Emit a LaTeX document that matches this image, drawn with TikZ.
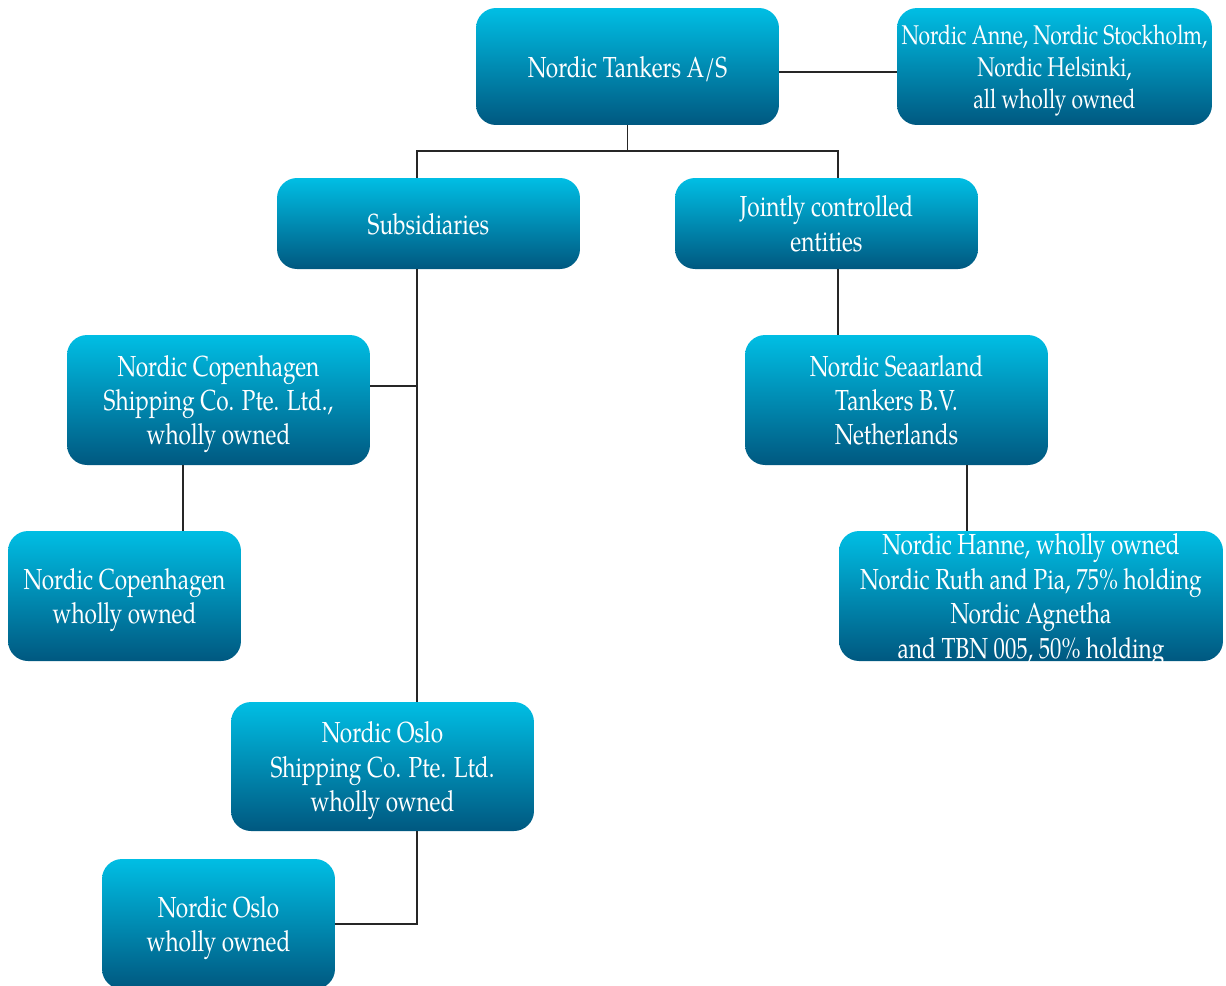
\documentclass[tikz,border=0pt]{standalone}
\usepackage{fontspec}
\setmainfont{texgyrepagella}[Extension=.otf,UprightFont=*-regular,BoldFont=*-bold,ItalicFont=*-italic,BoldItalicFont=*-bolditalic,FakeStretch=0.78]
\definecolor{cTop}{RGB}{0,190,228}
\definecolor{cBot}{RGB}{0,88,128}
\tikzset{
  orgbox/.style={rounded corners=0.4cm, top color=cTop, bottom color=cBot, draw=none,
    text=white, align=center, inner sep=0pt, text depth=0pt,
    font=\fontsize{16.5}{19.6}\selectfont},
  link/.style={draw=black!85, line width=0.8pt}
}
\begin{document}
\begin{tikzpicture}[x=0.02cm,y=-0.02cm]
\useasboundingbox (0,0) rectangle (1226,985);
\begin{scope}
\clip (0,0) rectangle (1226,985);
\node[orgbox, minimum width=6.06cm, minimum height=2.34cm] (tank) at (627.5,66.5) {Nordic Tankers A/S};
\node[orgbox, minimum width=6.3cm, minimum height=2.34cm, font=\fontsize{15.4}{18.3}\selectfont] (anne) at (1054.5,66.5) {Nordic Anne, Nordic Stockholm,\\Nordic Helsinki,\\all wholly owned};
\node[orgbox, minimum width=6.06cm, minimum height=1.82cm] (subs) at (428.5,223.5) {Subsidiaries};
\node[orgbox, minimum width=6.06cm, minimum height=1.82cm] (joint) at (826.5,223.5) {Jointly controlled\\entities};
\node[orgbox, minimum width=6.06cm, minimum height=2.6cm] (cph) at (218.5,400) {Nordic Copenhagen\\Shipping Co. Pte. Ltd.,\\wholly owned};
\node[orgbox, minimum width=6.06cm, minimum height=2.6cm] (sea) at (896.5,400) {Nordic Seaarland\\Tankers B.V.\\Netherlands};
\node[orgbox, minimum width=4.66cm, minimum height=2.6cm] (cphw) at (124.5,596) {Nordic Copenhagen\\wholly owned};
\node[orgbox, minimum width=7.68cm, minimum height=2.6cm] (hanne) at (1031,596) {Nordic Hanne, wholly owned\\Nordic Ruth and Pia, 75\% holding\\Nordic Agnetha\\and TBN 005, 50\% holding};
\node[orgbox, minimum width=6.06cm, minimum height=2.58cm] (oslo) at (382.5,766.5) {Nordic Oslo\\Shipping Co. Pte. Ltd.\\wholly owned};
\node[orgbox, minimum width=4.66cm, minimum height=2.6cm] (oslow) at (218.5,924) {Nordic Oslo\\wholly owned};
\end{scope}
% connectors
\draw[link] ([yshift=-0.11cm]tank.east) -- ([yshift=-0.11cm]anne.west);
\coordinate (j1) at (627.5,151);
\draw[link] (tank.south) -- (j1);
\draw[link] (j1) -| ([xshift=-0.23cm]subs.north);
\draw[link] (j1) -| ([xshift=0.23cm]joint.north);
\coordinate (trunk) at ([xshift=-0.23cm]subs.south);
\draw[link] (trunk) -- (trunk |- oslo.north);
\coordinate (cphA) at ([yshift=0.28cm]cph.east);
\draw[link] (cphA) -- (cphA -| trunk);
\coordinate (osloB) at ([xshift=0.69cm]oslo.south);
\draw[link] (osloB) |- (oslow.east);
\coordinate (jB) at ([xshift=0.23cm]joint.south);
\draw[link] (jB) -- (jB |- sea.north);
\coordinate (sB) at ([xshift=1.41cm]sea.south);
\draw[link] (sB) -- (sB |- hanne.north);
\coordinate (cB) at ([xshift=-0.71cm]cph.south);
\draw[link] (cB) -- (cB |- cphw.north);
\end{tikzpicture}
\end{document}
